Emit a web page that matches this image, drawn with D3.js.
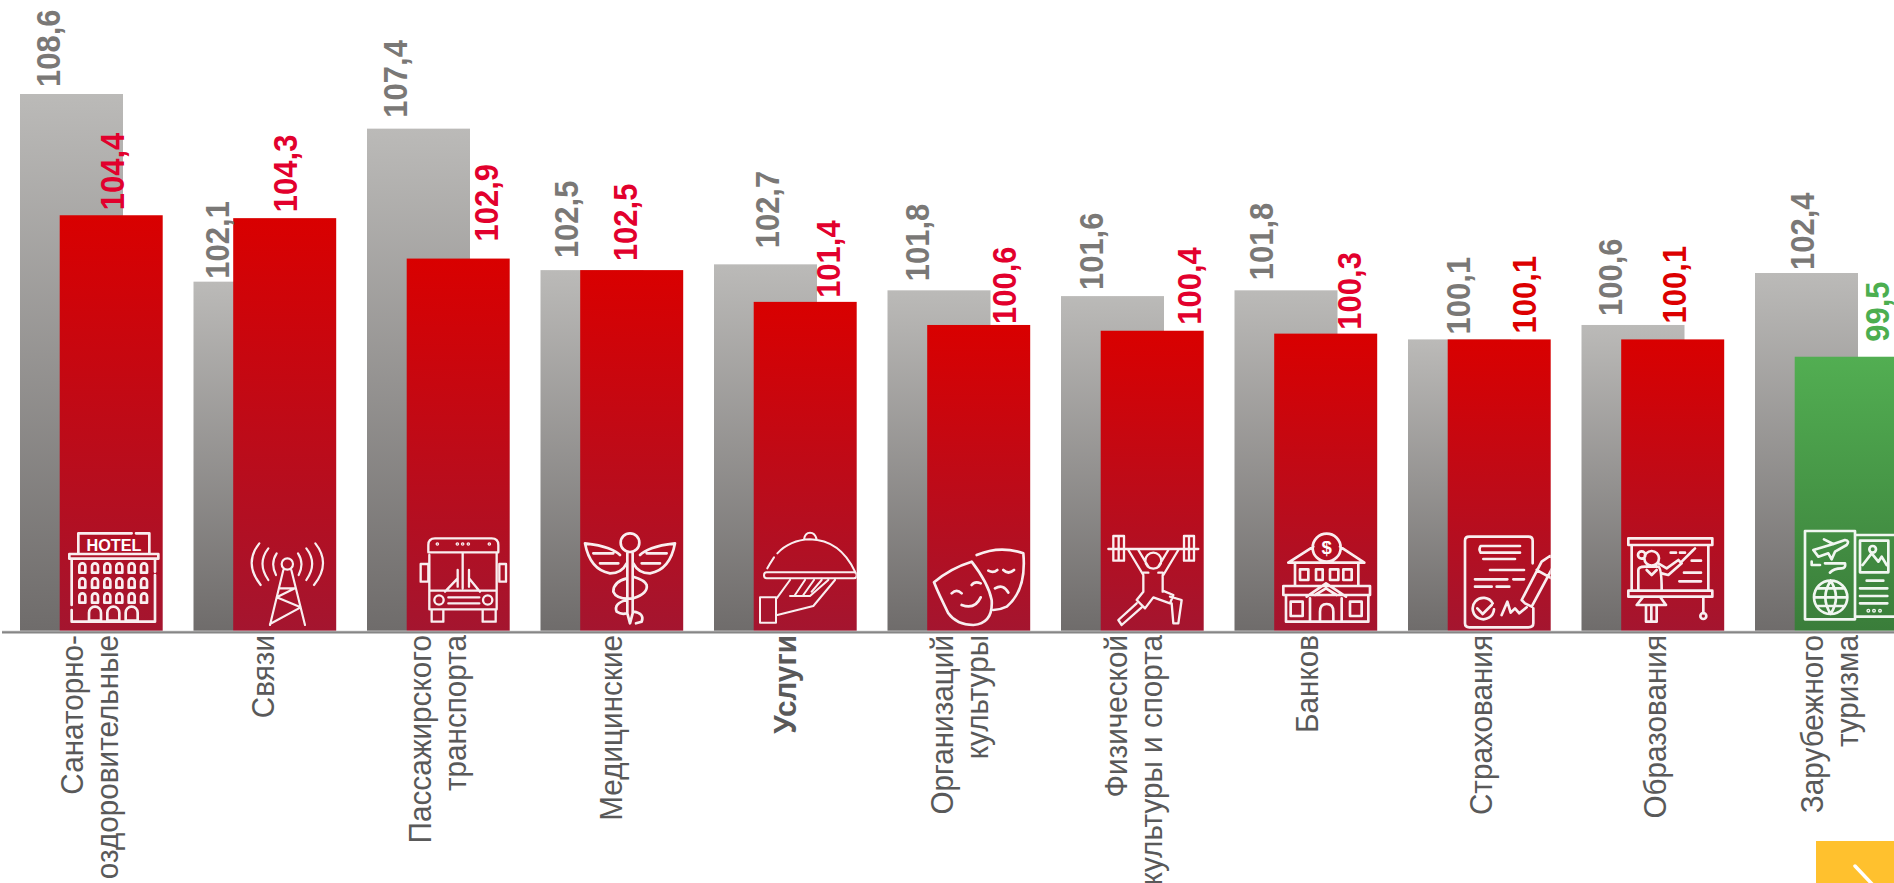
<!DOCTYPE html>
<html lang="ru"><head><meta charset="utf-8">
<script src="https://cdn.jsdelivr.net/npm/d3@7/dist/d3.min.js"></script>
<style>
html,body{margin:0;padding:0;background:#fff;overflow:hidden}
svg{display:block}
text{font-family:"Liberation Sans",Arial,sans-serif}
</style></head><body>
<svg id="c" width="1894" height="883"></svg>
<script>
// ---- data ----
const categories = ["Санаторно-\nоздоровительные","Связи","Пассажирского\nтранспорта","Медицинские","Услуги","Организаций\nкультуры","Физической\nкультуры и спорта","Банков","Страхования","Образования","Зарубежного\nтуризма"];
const previousValues = [108.6,102.1,107.4,102.5,102.7,101.8,101.6,101.8,100.1,100.6,102.4];
const currentValues  = [104.4,104.3,102.9,102.5,101.4,100.6,100.4,100.3,100.1,100.1,99.5];
const boldCategory = "Услуги";
const greenCategory = "Зарубежного\nтуризма";

// ---- hand-placed data label nudges (px), as in the original slide ----
const prevNudgeX = [-23.5,-28,-23.5,-26,1.5,-22,-21.5,-25,-1.5,-23,-4.5];
const prevGap    = [7,3,11,12,16,9,6,10,5,9,3];
const currNudgeX = [0.5,0,27.5,-7,22.5,25,36.5,23,24.5,1,30.5];
const currGap    = [5,6,17,9,4,1,6,4,6,16,15];
const currLabelColors = ["#e2002d","#e2002d","#e2002d","#e2002d","#e2002d","#e2002d","#e2002d","#e2002d","#dc0000","#dc0000","#4cae50"];

const svg = d3.select("#c");
const defs = svg.append("defs");
function grad(id,a,b){
  const g=defs.append("linearGradient").attr("id",id).attr("x1",0).attr("y1",0).attr("x2",0).attr("y2",1);
  g.append("stop").attr("offset",0).attr("stop-color",a);
  g.append("stop").attr("offset",1).attr("stop-color",b);
}
grad("gGrey","#bbbab8","#6f6c6b");
grad("gRed","#d90000","#a4152f");
grad("gGreen","#52ae52","#3a7d3a");

const y = d3.scaleLinear().domain([90,108.6]).range([631,94]);
const x = d3.scaleBand().domain(categories).range([20,20+173.5*11]);
const xLabel = d3.scaleBand().domain(categories).range([13,13+174*11]);
const barW = 103, redOffset = 39.7;

// grey bars
svg.append("g").selectAll("rect").data(categories).join("rect")
  .attr("x",d=>x(d)).attr("width",barW)
  .attr("y",(d,i)=>y(previousValues[i])).attr("height",(d,i)=>y(90)-y(previousValues[i]))
  .attr("fill","url(#gGrey)");
// current bars
svg.append("g").selectAll("rect").data(categories).join("rect")
  .attr("x",d=>x(d)+redOffset).attr("width",barW)
  .attr("y",(d,i)=>y(currentValues[i])).attr("height",(d,i)=>y(90)-y(currentValues[i]))
  .attr("fill",d=>d===greenCategory?"url(#gGreen)":"url(#gRed)");

// baseline
svg.append("rect").attr("x",2).attr("width",1892).attr("y",y(90)-0.4).attr("height",1).attr("fill","#d4d4d4");
svg.append("line").attr("x1",2).attr("x2",1894).attr("y1",y(90)+1.4).attr("y2",y(90)+1.4).attr("stroke","#868686").attr("stroke-width",2.4);

// category axis
const fmt = d3.format(".1f");
const catStretch = 1.06;
const axis = svg.append("g").attr("transform",`translate(0,${y(90)})`).call(d3.axisBottom(xLabel).tickSize(0));
axis.select(".domain").remove();
axis.selectAll(".tick text").each(function(d){
  const lines=d.split("\n");
  const t=d3.select(this).text(null)
    .attr("transform",`translate(0,4) rotate(-90) scale(1,${catStretch})`)
    .attr("text-anchor","end").attr("x",0).attr("y",0).attr("dy",null)
    .attr("fill","#595959").attr("font-size",29.7)
    .attr("font-family",'"Liberation Sans",Arial,sans-serif')
    .attr("font-weight",d===boldCategory?"bold":"normal");
  lines.forEach((l,i)=>{
    t.append("tspan").attr("x",0).attr("y",lines.length===1?0:(i===0?-17.5:17.5)/catStretch).text(l);
  });
});

// value labels
function labels(vals,offset,nudge,gap,color){
  svg.append("g").selectAll("text").data(categories).join("text")
    .attr("transform",(d,i)=>`translate(${x(d)+offset+barW/2+nudge[i]},${y(vals[i])-gap[i]}) rotate(-90) scale(1,1.1)`)
    .attr("dy","0.36em").attr("font-size",31).attr("font-weight","bold")
    .attr("fill",(d,i)=>color(i))
    .text((d,i)=>fmt(vals[i]).replace(".",","));
}
labels(previousValues,0,prevNudgeX,prevGap,()=>"#7a7876");
labels(currentValues,redOffset,currNudgeX,currGap,i=>currLabelColors[i]);

// ---- pictograms (decorative line art, each clipped to its bar) ----
function arches(xs,ys,w,h){let s="";ys.forEach(yy=>xs.forEach(xx=>{s+=`M${xx-w/2} ${yy+h}V${yy+w/2}A${w/2} ${w/2} 0 0 1 ${xx+w/2} ${yy+w/2}V${yy+h}Z`}));return s}
function circ(cx,cy,r){return `M${cx-r} ${cy}A${r} ${r} 0 1 1 ${cx+r} ${cy}A${r} ${r} 0 1 1 ${cx-r} ${cy}Z`}
function box(a,b,c,d){return `M${a} ${b}H${c}V${d}H${a}Z`}
const dots=(pts,r)=>pts.map(p=>circ(p[0],p[1],r)).join("");
const icons=[
 {o:[50,520],sw:8,d:"M85 100V40H245M258 40H298V100"+box(58,102,325,116)+"M65 118V255M65 270V305H315V165M315 155V118"+arches([97,135,172,208,245,282],[130,175,220],18,28)+arches([135,190,245],[260],36,42),
  t:{s:"HOTEL",x:192,y:92,size:52}},
 {o:[50,520],sw:6.5,d:"M632 195Q580 130 628 70M655 180Q620 130 655 85M678 165Q660 130 680 100M792 195Q844 130 796 70M769 180Q804 130 769 85M746 165Q764 130 744 100"+circ(712,132,17)+"M700 150L660 315M724 150L765 315M690 205H735L680 232L752 262L660 312"},
 {o:[400,520],sw:7,d:"M85 95V75Q85 55 105 55H275Q295 55 295 75V95M85 97H295M88 105V268H290V100M188 97V205"+box(62,132,85,185)+box(298,132,318,185)+"M173 150V200M207 150V200M173 175L135 215M207 175L240 215M88 212H290"+circ(117,240,14)+circ(263,240,14)+"M145 232H238M145 250H238M95 270V305H130V270M248 270V305H287V270"+dots([[112,72],[172,72],[188,72],[205,72],[268,72]],2)},
 {o:[400,520],sw:8,d:circ(690,68,28)+"M682 100V280L690 310L698 280V100M555 70Q600 75 625 85Q650 95 660 105M555 70Q570 150 630 160Q665 160 680 130M580 100H640M600 130H655M825 70Q780 75 755 85Q730 95 720 105M825 70Q810 150 750 160Q715 160 700 130M800 100H740M780 130H725M680 175Q640 185 640 215Q650 240 700 235Q745 220 740 195Q735 180 700 170M680 240Q640 250 650 275Q665 285 680 280M700 275Q735 280 725 305L708 310"},
 {o:[740,520],sw:6,d:"M82 145Q90 130 102 112M112 100Q150 60 210 58Q300 60 345 155M192 58Q195 38 210 38Q225 38 230 58M80 157H342Q350 157 350 166Q350 175 342 175H80Q72 175 72 166Q72 157 80 157ZM150 180L110 235M285 180L220 258L112 285"+box(60,232,108,308)+"M150 228H210L265 180M165 225L195 180M190 225L222 180M215 215L245 180"},
 {o:[740,520],sw:8,d:"M710 105Q780 75 850 100Q860 210 800 260Q780 270 760 270M582 187Q630 145 695 125Q745 190 755 240Q760 310 700 315Q650 315 625 280Q595 220 582 187ZM635 220Q650 205 665 220M695 195Q705 182 722 190M665 255Q705 270 722 232M790 150Q805 165 822 150M745 152Q760 160 772 150M765 205Q790 190 805 218"},
 {o:[740,520],sw:7,d:"M1105 87H1375"+box(1120,48,1152,122)+box(1332,48,1362,122)+"M1136 48V122M1347 48V122"+circ(1240,122,24)+"M1165 90L1210 165M1195 90L1225 140M1315 90L1270 165M1285 90L1255 140M1210 165V215M1268 165V215M1210 158H1225M1255 158H1268M1210 215L1190 240L1215 265L1240 232L1290 250L1300 225L1268 212M1190 250L1135 300L1145 315L1205 262M1295 250L1300 310H1315L1325 240L1290 230"},
 {o:[1270,520],sw:8,d:circ(170,83,42)+"M55 128L130 80M210 80L283 128H55M75 130V195M265 130V195"+box(90,148,115,180)+box(138,148,158,180)+box(180,148,205,180)+box(220,148,245,180)+box(40,198,300,225)+"M110 230L168 190L228 230M135 225L168 205L200 225M48 228V305H295V228"+box(62,245,98,288)+box(240,245,275,288)+"M120 235V305M215 235V305M150 305V275Q150 252 170 252Q190 252 190 275V305",
  t:{s:"$",x:170,y:103,size:56}},
 {o:[1270,520],sw:8,d:"M788 130V62Q788 50 775 50H598Q585 50 585 62V310Q585 322 598 322H775Q790 322 790 310V265M750 78H632Q625 88 632 98H750M640 117H735M660 150H762M615 178H712M730 178H762M615 200H665M680 200H718M668 250A32 32 0 1 0 672 268M622 265L638 282L665 255M695 285L712 245L722 278L735 265L748 280L770 262M765 250L755 240L815 125L840 108L860 120L785 260ZM800 150L845 175"},
 {o:[1600,520],sw:8,d:box(85,55,337,75)+"M95 75V210M325 75V210"+box(85,212,337,230)+"M310 230V280"+circ(310,288,9)+"M212 98H228M240 98H255M270 100L285 85M275 122H303M252 158H303M238 184H303M185 160L205 165L245 130L235 120L200 145L175 130M245 125L280 90"+circ(155,115,22)+circ(125,105,11)+"M115 210V150Q115 140 135 140H175Q185 145 185 210M140 150L155 165L170 150M130 230L110 255H198L180 230M138 255V305H170V255M154 255V305"},
 {o:[1600,520],sw:8,d:box(615,33,765,298)+"M768 45H882M768 290H882"+box(780,62,865,157)+"M788 135L815 100L835 125L845 110L860 135"+circ(818,88,10)+"M800 182H850M780 205H862M780 228H862M780 250H862"+dots([[805,272],[822,272],[840,272]],2)+circ(692,232,50)+"M692 182Q660 232 692 282Q724 232 692 182M642 232H742M650 205H734M650 258H734M640 90L700 72L735 60Q750 62 740 75L705 95L695 118L685 100L655 110ZM672 58L700 72M635 125V135H660M690 158Q700 145 725 145Q738 145 735 130H675"}
];
const clip=defs.selectAll("clipPath").data(categories).join("clipPath").attr("id",(d,i)=>"cl"+i);
clip.append("rect").attr("x",d=>x(d)+redOffset).attr("width",barW).attr("y",500).attr("height",131);
const ig=svg.append("g");
icons.forEach((ic,i)=>{
  const wrap=ig.append("g").attr("clip-path",`url(#cl${i})`);
  const g=wrap.append("g").attr("transform",`translate(${ic.o[0]},${ic.o[1]}) scale(${1/3})`);
  g.append("path").attr("d",ic.d).attr("fill","none").attr("stroke","#fff").attr("stroke-opacity",.93).attr("stroke-width",ic.sw).attr("stroke-linecap","round").attr("stroke-linejoin","round");
  if(ic.t){
    const tx=g.append("text").attr("x",ic.t.x).attr("y",ic.t.y).attr("text-anchor","middle").attr("font-weight","bold").attr("font-size",ic.t.size).attr("fill","#fff").text(ic.t.s);
    if(ic.t.s.length>1) tx.attr("textLength",165).attr("lengthAdjust","spacingAndGlyphs");
  }
});

// corner tab
svg.append("rect").attr("x",1816).attr("y",841).attr("width",78).attr("height",42).attr("fill","#ffc12e");
svg.append("line").attr("x1",1855).attr("y1",866).attr("x2",1873).attr("y2",885).attr("stroke","#fff").attr("stroke-width",3.5).attr("stroke-linecap","round");
</script>
</body></html>
